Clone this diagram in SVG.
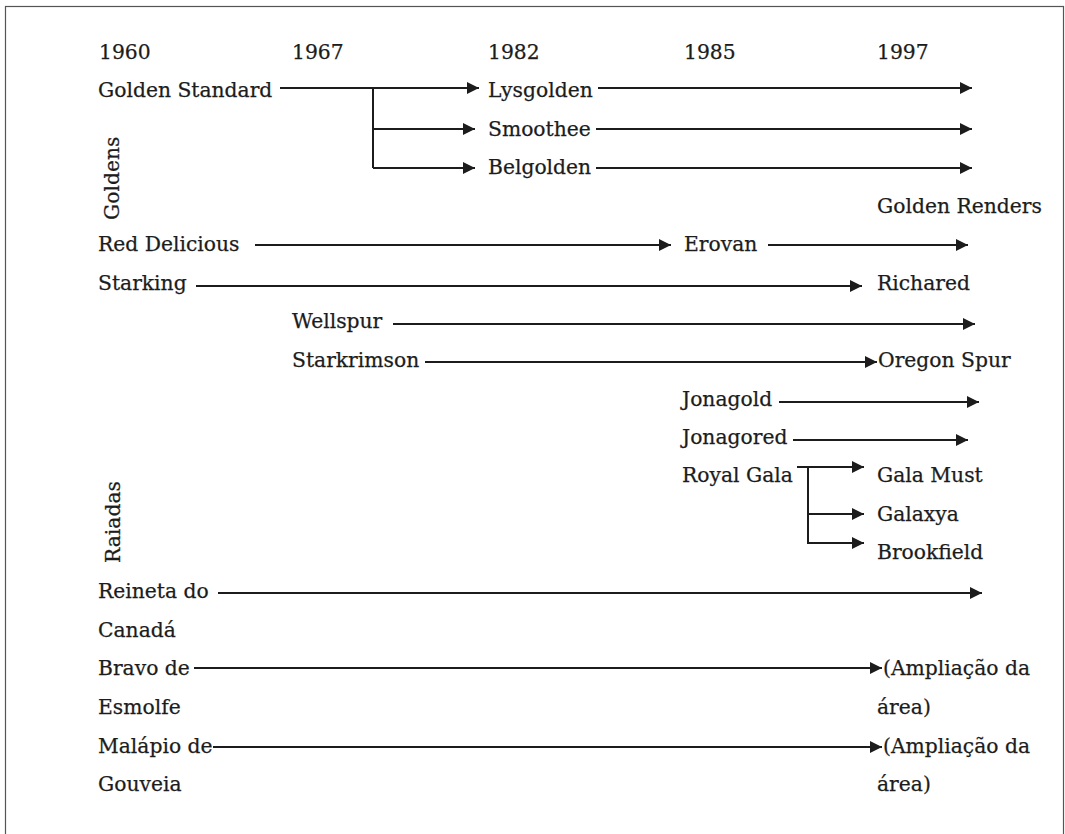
<svg xmlns="http://www.w3.org/2000/svg" width="1065" height="834" viewBox="0 0 1065 834">
<style>
text{font-family:"DejaVu Serif","Liberation Serif",serif;font-size:20.3px;fill:#1c1c1c;stroke:#1c1c1c;stroke-width:0.25}
.c{stroke:#1c1c1c;stroke-width:2;fill:none}
.a{marker-end:url(#ah)}
</style>
<defs>
<marker id="ah" markerUnits="userSpaceOnUse" markerWidth="13" markerHeight="12" refX="12" refY="6" orient="auto" viewBox="0 0 13 12">
<path d="M0,0 L12,6 L0,12 z" fill="#1c1c1c"/>
</marker>
</defs>
<rect x="5.5" y="6.5" width="1058" height="860" fill="#fff" stroke="#555" stroke-width="1.2"/>
<g id="years">
<text x="99" y="59">1960</text>
<text x="292" y="59">1967</text>
<text x="488" y="59">1982</text>
<text x="684" y="59">1985</text>
<text x="877" y="59">1997</text>
</g>
<g id="group-labels">
<text transform="translate(119,220) rotate(-90)">Goldens</text>
<text transform="translate(120,563) rotate(-90)">Raiadas</text>
</g>
<g id="n-golden-standard"><text x="98" y="97">Golden Standard</text></g>
<g id="n-lysgolden"><text x="488" y="97">Lysgolden</text></g>
<g id="n-smoothee"><text x="488" y="136">Smoothee</text></g>
<g id="n-belgolden"><text x="488" y="174">Belgolden</text></g>
<g id="n-golden-renders"><text x="877" y="213">Golden Renders</text></g>
<g id="n-red-delicious"><text x="98" y="251">Red Delicious</text></g>
<g id="n-erovan"><text x="684" y="251">Erovan</text></g>
<g id="n-starking"><text x="98" y="290">Starking</text></g>
<g id="n-richared"><text x="877" y="290">Richared</text></g>
<g id="n-wellspur"><text x="292" y="328">Wellspur</text></g>
<g id="n-starkrimson"><text x="292" y="367">Starkrimson</text></g>
<g id="n-oregon-spur"><text x="878" y="367">Oregon Spur</text></g>
<g id="n-jonagold"><text x="682" y="406">Jonagold</text></g>
<g id="n-jonagored"><text x="682" y="444">Jonagored</text></g>
<g id="n-royal-gala"><text x="682" y="482">Royal Gala</text></g>
<g id="n-gala-must"><text x="877" y="482">Gala Must</text></g>
<g id="n-galaxya"><text x="877" y="521">Galaxya</text></g>
<g id="n-brookfield"><text x="877" y="559">Brookfield</text></g>
<g id="n-reineta"><text x="98" y="598">Reineta do</text><text x="98" y="637">Canadá</text></g>
<g id="n-bravo"><text x="98" y="675">Bravo de</text><text x="98" y="714">Esmolfe</text></g>
<g id="n-malapio"><text x="98" y="753">Malápio de</text><text x="98" y="791">Gouveia</text></g>
<g id="n-ampliacao-1"><text x="883" y="675">(Ampliação da</text><text x="877" y="714">área)</text></g>
<g id="n-ampliacao-2"><text x="883" y="753">(Ampliação da</text><text x="877" y="791">área)</text></g>
<g id="connectors">
<line class="c a" x1="280" y1="88" x2="479" y2="88"/>
<path class="c" d="M373,88 V168"/>
<line class="c a" x1="373" y1="129" x2="475" y2="129"/>
<line class="c a" x1="373" y1="168" x2="475" y2="168"/>
<line class="c a" x1="598" y1="88" x2="972" y2="88"/>
<line class="c a" x1="596" y1="129" x2="972" y2="129"/>
<line class="c a" x1="596" y1="168" x2="972" y2="168"/>
<line class="c a" x1="255" y1="245" x2="671" y2="245"/>
<line class="c a" x1="768" y1="245" x2="968" y2="245"/>
<line class="c a" x1="196" y1="286" x2="862" y2="286"/>
<line class="c a" x1="393" y1="324" x2="975" y2="324"/>
<line class="c a" x1="425" y1="362" x2="877" y2="362"/>
<line class="c a" x1="779" y1="402" x2="979" y2="402"/>
<line class="c a" x1="793" y1="440" x2="968" y2="440"/>
<line class="c a" x1="797" y1="467" x2="864" y2="467"/>
<path class="c" d="M808,467 V544"/>
<line class="c a" x1="808" y1="514" x2="864" y2="514"/>
<line class="c a" x1="807" y1="543" x2="864" y2="543"/>
<line class="c a" x1="218" y1="593" x2="982" y2="593"/>
<line class="c a" x1="194" y1="668" x2="882" y2="668"/>
<line class="c a" x1="213" y1="747" x2="882" y2="747"/>
</g>
</svg>
